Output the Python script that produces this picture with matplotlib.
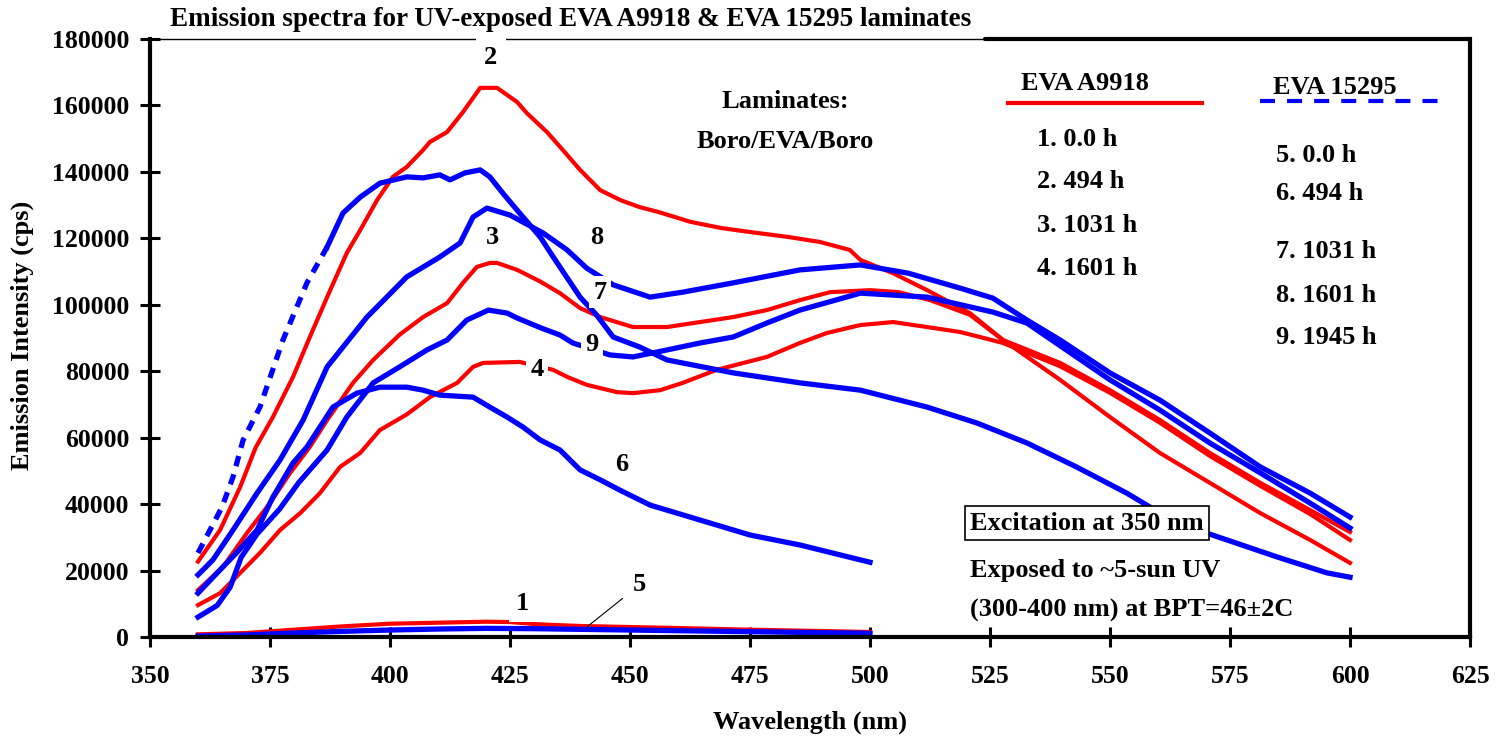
import matplotlib
matplotlib.use('Agg')
import matplotlib.pyplot as plt
from matplotlib.lines import Line2D

plt.rcParams['font.family'] = ['Liberation Serif', 'DejaVu Serif']
plt.rcParams['font.weight'] = 'bold'

W, H = 1507, 741

# EVA A9918 (red)
wl_1 = [360, 370, 380, 390, 400, 410, 420, 425, 431, 440, 450, 460, 475, 490, 500]
em_1 = [800, 1200, 2200, 3200, 4000, 4300, 4600, 4500, 3800, 3300, 3000, 2700, 2200, 1800, 1500]

wl_2 = [360, 364.6, 368.8, 372, 375.6, 379.8, 383.3, 386.9, 391, 393.8, 397.3, 400.6, 403.5,
        406.9, 408.3, 411.9, 415.2, 418.8, 422.3, 426.5, 428.5, 432.7, 436, 439.6, 443.8,
        448, 452, 456, 462.5, 469, 475, 483, 489.6, 495.8, 498, 504.8, 511.9, 520.8, 527.7,
        539.6, 550, 560.4, 570.8, 581.3, 591.7, 600]
em_2 = [22700, 32200, 45200, 57000, 66200, 78300, 90300, 102300, 115600, 122500, 131500, 138500, 141500,
        146600, 149000, 152000, 158000, 165300, 165300, 161000, 157700, 152000, 146600, 140600, 134500,
        131500, 129400, 127900, 125000, 123100, 121900, 120400, 118900, 116500, 113500, 109500, 104400, 97500, 89400,
        77400, 66200, 55400, 46400, 37300, 29200, 22300]

wl_3 = [360, 365.2, 370.2, 375, 379.2, 383.3, 386.9, 392.3, 396.5, 402, 406.9, 411.9, 415.2, 418.1,
        420.8, 422.3, 426.5, 431.3, 435.4, 439.6, 443.8, 450.6, 457.7, 464.6, 471.5, 478.5, 485.4,
        491.7, 500, 506, 512.5, 520.8, 527.7, 539.6, 550, 560.4, 570.8, 581.3, 591.7, 600]
em_3 = [14100, 21100, 31300, 40300, 49400, 57200, 65300, 76500, 83400, 91000, 96300, 100500, 106600, 111400,
        112600, 112600, 110500, 107000, 103500, 99000, 96300, 93300, 93300, 94800, 96300, 98400, 101400,
        103800, 104400, 103800, 101400, 97000, 89400, 82500, 74300, 65300, 55400, 46400, 38200, 31600]

wl_4 = [360, 364.6, 368.8, 372.9, 377.1, 381.3, 385.4, 389.6, 393.8, 397.9, 403.5, 408.3, 414, 417.3,
        419.4, 427, 434, 436.9, 441, 447.3, 450.6, 456.3, 461, 468, 478.5, 485.4, 491, 498, 504.8,
        511.9, 518.8, 522.9, 527.7, 539.6, 550, 560.4, 570.8, 581.3, 591.7, 600]
em_4 = [9600, 13200, 19300, 25300, 32200, 37300, 43300, 51200, 55400, 62300, 67000, 72200, 76500, 81300,
        82500, 82800, 80400, 78300, 75900, 73700, 73400, 74300, 76500, 80400, 84300, 88500, 91500, 93900, 94800,
        93300, 91800, 90300, 88500, 81500, 73500, 64500, 54500, 45500, 37000, 29200]

# EVA 15295 (blue)
wl_5 = [360, 370, 380, 390, 400, 410, 420, 430, 440, 450, 460, 475, 490, 500]
em_5 = [300, 600, 1200, 1700, 2100, 2400, 2600, 2500, 2300, 2100, 1900, 1600, 1300, 1100]

wl_6 = [360, 364, 368, 372.3, 375.6, 379.8, 382.7, 388.1, 393.1, 397.9, 403.5, 406.9, 410.4, 417.3,
        420.8, 424.4, 427.7, 431.3, 435.4, 439.6, 443.8, 447.9, 454.2, 464.6, 475, 485.4, 500]
em_6 = [13200, 19300, 25300, 32200, 42100, 52400, 57200, 69200, 73400, 75200, 75200, 74300, 72800, 72200,
        69200, 66200, 63200, 59300, 56300, 50300, 47300, 44200, 39700, 35200, 30700, 27700, 22500]

wl_7 = [360, 362.5, 365, 367.3, 369.4, 372.9, 377.7, 382.7, 386.9, 390.2, 393.8, 397.9, 403.5, 406.9,
        410.4, 412.5, 415.6, 418.8, 420.8, 423.5, 427, 431.3, 434, 439.6, 443, 446.5, 452, 457.7,
        471.5, 485.4, 498, 511.9, 522.3, 532.7, 543, 553.5, 563.9, 574.4, 584.8, 595.2, 600]
em_7 = [25300, 32200, 39100, 48200, 59300, 69200, 89400, 106600, 117400, 127600, 132400, 136600, 138500, 138200,
        139100, 137600, 139700, 140600, 138500, 133600, 127600, 120400, 114400, 102300, 97000, 90300, 87300, 83400,
        79500, 76500, 74300, 69200, 64400, 58400, 51200, 43300, 34300, 29200, 24100, 19300, 18000]

wl_8 = [360, 363.1, 367.3, 372.3, 377.1, 381.9, 386.9, 395.2, 403.5, 410.4, 414.6, 417.3, 420.2, 425,
        431.9, 436.9, 441, 446.5, 454.2, 461, 471.5, 485.4, 498, 508, 518.8, 525.6, 532.7, 539.6,
        550, 560.4, 570.8, 581.3, 591.7, 600]
em_8 = [18700, 23200, 32200, 43300, 53300, 65300, 81300, 96300, 108400, 114400, 118600, 126400, 129100, 127000,
        121600, 116500, 111000, 106000, 102300, 103800, 106600, 110500, 112000, 109500, 105000, 102000, 95400, 89400,
        79500, 71300, 61400, 51200, 43300, 36100]

wl_9 = [360, 364, 366.7, 369, 372.3, 377, 381, 386.9, 391, 396.5, 402, 407.7, 411.9, 416, 420.5,
        424.4, 426.5, 431.5, 435.4, 438.1, 445.8, 450.6, 457.7, 464.6, 471.5, 478.5, 485.4, 498,
        511.9, 525.6, 532.7, 550, 560.4, 570.8, 581.3, 591.7, 600]
em_9 = [6000, 9500, 15000, 24000, 31000, 38500, 46500, 56300, 66200, 76500, 81300, 86400, 89400, 95400, 98400,
        97500, 96000, 93000, 90900, 88500, 84900, 84300, 86400, 88500, 90300, 94500, 98400, 103500,
        102300, 97800, 94500, 77400, 68300, 58400, 49400, 40300, 32800]

x_ticks = [350, 375, 400, 425, 450, 475, 500, 525, 550, 575, 600, 625]
y_ticks = [0, 20000, 40000, 60000, 80000, 100000, 120000, 140000, 160000, 180000]

RED = '#ff0000'
BLUE = '#0000ff'

fig = plt.figure(figsize=(W / 100, H / 100), dpi=100)
ax = fig.add_axes([150 / W, 1 - 637 / H, 1320 / W, 598 / H])

# red set
for wl, em in [(wl_1, em_1), (wl_2, em_2), (wl_3, em_3), (wl_4, em_4)]:
    ax.plot(wl, em, color=RED, lw=3, solid_joinstyle='round')

# blue set
for wl, em in [(wl_5, em_5), (wl_6, em_6), (wl_8, em_8), (wl_9, em_9)]:
    ax.plot(wl, em, color=BLUE, lw=3.8)
k = 8  # 7 starts out dashed
ax.plot(wl_7[:k + 1], em_7[:k + 1], color=BLUE, lw=3.8, dashes=(2, 1.6))
ax.plot(wl_7[k:], em_7[k:], color=BLUE, lw=3.8)

ax.set_xlim(350, 625)
ax.set_ylim(0, 180000)
ax.set_xticks(x_ticks)
ax.set_yticks(y_ticks)
ax.tick_params(direction='inout', length=14, width=2.2, labelsize=18.5)
ax.tick_params(axis='x', pad=13)
ax.tick_params(axis='y', pad=8)

for s in ['left', 'bottom', 'right']:
    ax.spines[s].set_linewidth(3)
ax.spines['top'].set_visible(False)
ax.plot([350, 524], [180000, 180000], color='black', lw=1, clip_on=False, zorder=5)
ax.plot([524, 625], [180000, 180000], color='black', lw=3, clip_on=False, zorder=5,
        solid_capstyle='round')

# curve numbers, white boxes break the lines like the original
lab = dict(fontsize=19, ha='center', va='center', zorder=6,
           bbox=dict(facecolor='white', edgecolor='none', pad=3))
ax.text(421, 174500, '2', fontsize=19, ha='center', va='center', zorder=6,
        bbox=dict(facecolor='white', edgecolor='none', pad=6))
ax.text(421.3, 120400, '3', **lab)
ax.text(443.1, 120400, '8', **lab)
ax.text(443.8, 103800, '7', **lab)
ax.text(442.1, 87900, '9', **lab)
ax.text(430.6, 80400, '4', **lab)
ax.text(448.3, 51800, '6', **lab)
ax.text(427.5, 10000, '1', fontsize=19, ha='center', va='center', zorder=6,
        bbox=dict(facecolor='white', edgecolor='none', pad=4.5))
ax.annotate('5', xy=(441, 3000), xytext=(452, 15700), fontsize=19, ha='center', va='center',
            arrowprops=dict(arrowstyle='-', color='black', lw=0.8, shrinkA=7, shrinkB=0))

def fx(x):
    return x / W

def fy(y):
    return 1 - y / H

fs = 19
fig.text(fx(571), fy(20), 'Emission spectra for UV-exposed EVA A9918 & EVA 15295 laminates',
         fontsize=19.5, ha='center', va='center')
fig.text(fx(810), fy(722), 'Wavelength (nm)', fontsize=fs, ha='center', va='center')
fig.text(fx(22), fy(335), 'Emission Intensity (cps)', fontsize=fs, ha='center', va='center',
         rotation=90)

fig.text(fx(785), fy(101), 'Laminates:', fontsize=fs, ha='center', va='center')
fig.text(fx(785), fy(141), 'Boro/EVA/Boro', fontsize=fs, ha='center', va='center')

fig.text(fx(1085), fy(84), 'EVA A9918', fontsize=fs, ha='center', va='center')
fig.add_artist(Line2D([fx(1008), fx(1202)], [fy(103), fy(103)], color=RED, lw=3))
fig.text(fx(1335), fy(87), 'EVA 15295', fontsize=fs, ha='center', va='center')
fig.add_artist(Line2D([fx(1260), fx(1440)], [fy(101), fy(101)], color=BLUE, lw=3,
                      dashes=(3.6, 2.9)))

for y, s in zip([140, 182, 225, 268], ['1. 0.0 h', '2. 494 h', '3. 1031 h', '4. 1601 h']):
    fig.text(fx(1037), fy(y), s, fontsize=fs, ha='left', va='center')
for y, s in zip([156, 194, 252, 295, 338],
                ['5. 0.0 h', '6. 494 h', '7. 1031 h', '8. 1601 h', '9. 1945 h']):
    fig.text(fx(1276), fy(y), s, fontsize=fs, ha='left', va='center')

fig.text(fx(1087), fy(523), 'Excitation at 350 nm', fontsize=fs, ha='center', va='center',
         bbox=dict(facecolor='white', edgecolor='black', lw=1.2, pad=4))
fig.text(fx(970), fy(570), 'Exposed to ~5-sun UV', fontsize=fs, ha='left', va='center')
fig.text(fx(970), fy(610), '(300-400 nm) at BPT=46\u00b12C', fontsize=fs, ha='left', va='center')

fig.savefig('out.png', dpi=100)
